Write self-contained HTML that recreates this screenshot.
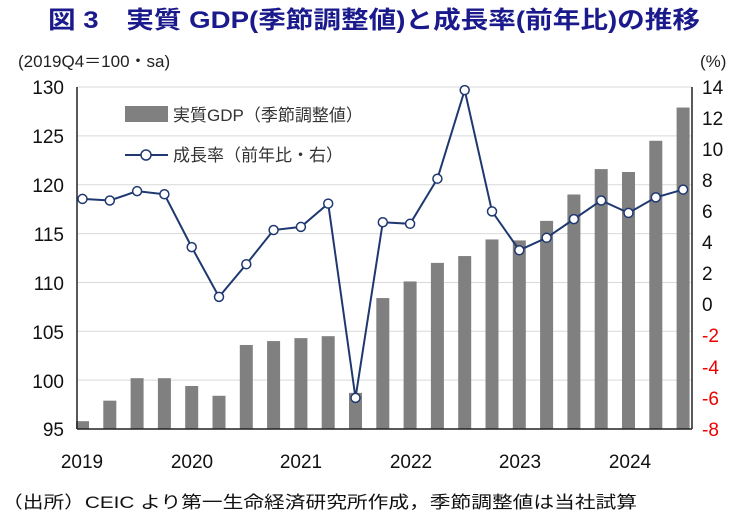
<!DOCTYPE html>
<html><head><meta charset="utf-8"><style>
html,body{margin:0;padding:0;background:#fff;}
svg{display:block;}
text{font-family:"Liberation Sans","Noto Sans CJK JP",sans-serif;}
</style></head><body>
<svg id="s" width="747" height="519" viewBox="0 0 747 519" xmlns="http://www.w3.org/2000/svg">
<text x="374" y="28" text-anchor="middle" font-size="24" font-weight="bold" fill="#1a1a8c" textLength="652" lengthAdjust="spacingAndGlyphs">図 3　実質 GDP(季節調整値)と成長率(前年比)の推移</text>
<text x="18" y="67" font-size="17" fill="#222">(2019Q4＝100・sa)</text>
<text x="700" y="67" font-size="17" fill="#222">(%)</text>
<g id="grid" stroke="#d9d9d9" stroke-width="1"></g>
<g id="bars" fill="#808080"></g>
<line x1="77" y1="87" x2="77" y2="429" stroke="#222" stroke-width="1.5"/>
<line x1="692" y1="87" x2="692" y2="429" stroke="#222" stroke-width="1.5"/>
<line x1="77" y1="429" x2="692" y2="429" stroke="#222" stroke-width="1.5"/>
<g id="line"></g>
<g font-size="19" fill="#111" text-anchor="end">
<text x="64" y="94">130</text><text x="64" y="143">125</text><text x="64" y="192">120</text><text x="64" y="241">115</text><text x="64" y="290">110</text><text x="64" y="339">105</text><text x="64" y="388">100</text><text x="64" y="436">95</text>
</g>
<g font-size="19" text-anchor="start">
<text x="702" y="94" fill="#111">14</text><text x="702" y="125" fill="#111">12</text><text x="702" y="156" fill="#111">10</text><text x="702" y="187" fill="#111">8</text><text x="702" y="218" fill="#111">6</text><text x="702" y="249" fill="#111">4</text><text x="702" y="280" fill="#111">2</text><text x="702" y="311" fill="#111">0</text>
<text x="702" y="342" fill="#e00">-2</text><text x="702" y="374" fill="#e00">-4</text><text x="702" y="405" fill="#e00">-6</text><text x="702" y="436" fill="#e00">-8</text>
</g>
<g font-size="19" fill="#111" text-anchor="middle">
<text x="82" y="468">2019</text><text x="192" y="468">2020</text><text x="301" y="468">2021</text><text x="411" y="468">2022</text><text x="520" y="468">2023</text><text x="630" y="468">2024</text>
</g>
<rect x="125" y="106" width="43" height="16" fill="#808080"/>
<text x="173" y="121" font-size="17" fill="#333">実質GDP（季節調整値）</text>
<line x1="125" y1="155" x2="168" y2="155" stroke="#1f3870" stroke-width="2"/>
<circle cx="146" cy="155" r="5" fill="#fff" stroke="#1f3870" stroke-width="1.5"/>
<text x="173" y="161" font-size="17" fill="#333">成長率（前年比・右）</text>
<text x="2" y="508" font-size="17" fill="#111" textLength="635" lengthAdjust="spacingAndGlyphs">（出所）CEIC より第一生命経済研究所作成，季節調整値は当社試算</text>
</svg>
<script>
var NS="http://www.w3.org/2000/svg";
function el(p,t,a){var e=document.createElementNS(NS,t);for(var k in a)e.setAttribute(k,a[k]);document.getElementById(p).appendChild(e);return e;}
for(var i=0;i<7;i++){var y=87+i*48.86;el("grid","line",{x1:77,x2:692,y1:y,y2:y});}
var b=[95.8,97.9,100.2,100.2,99.4,98.4,103.6,104.0,104.3,104.5,98.7,108.4,110.1,112.0,112.7,114.4,114.3,116.3,119.0,121.6,121.3,124.5,127.9];
var l=[6.8,6.7,7.3,7.1,3.7,0.5,2.6,4.8,5.0,6.5,-6.0,5.3,5.2,8.1,13.8,6.0,3.5,4.3,5.5,6.7,5.9,6.9,7.4];
var pts=[];
for(var i=0;i<b.length;i++){var cx=82.5+i*27.3;var yt=429-(b[i]-95)*9.771;
el("bars","rect",{x:cx-6.5,y:yt,width:13,height:429-yt});
pts.push([cx,87+(14-l[i])*15.545]);}
el("line","polyline",{points:pts.map(function(p){return p.join(",")}).join(" "),fill:"none",stroke:"#1f3870","stroke-width":2});
pts.forEach(function(p){el("line","circle",{cx:p[0],cy:p[1],r:4.5,fill:"#fff",stroke:"#1f3870","stroke-width":1.5});});
</script>
</body></html>
